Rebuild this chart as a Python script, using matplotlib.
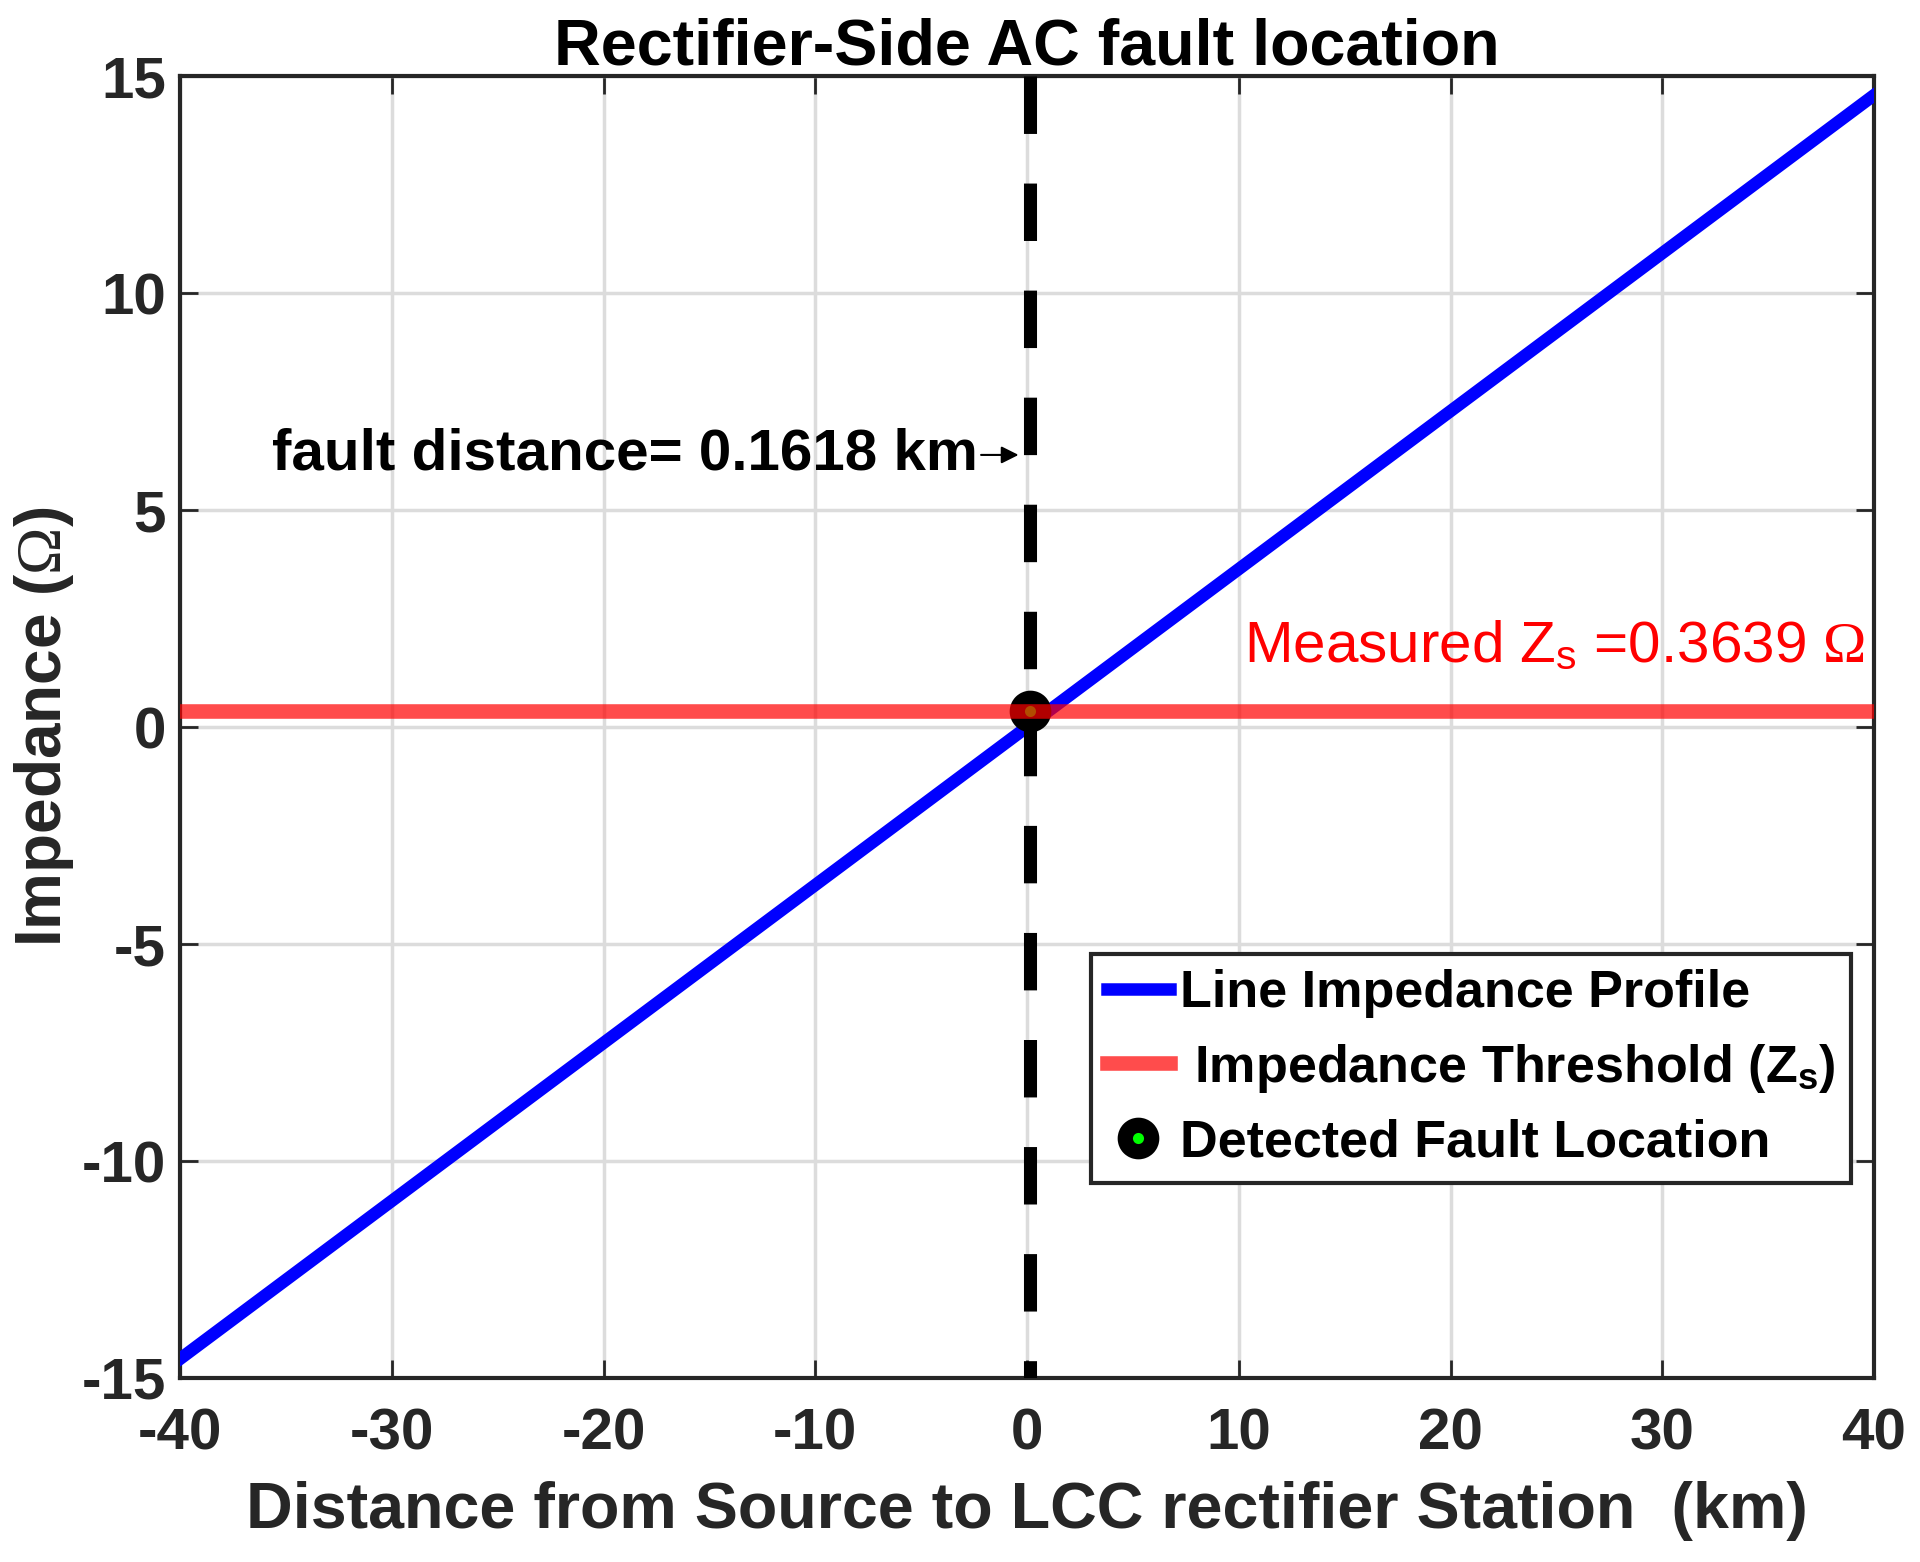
import matplotlib
matplotlib.use('Agg')
import matplotlib.pyplot as plt

# data
distance_km = [-40.0, 40.0]
impedance_ohm = [-14.56, 14.56]
z_threshold = 0.3639
fault_km = 0.1618
x_ticks = [-40, -30, -20, -10, 0, 10, 20, 30, 40]
y_ticks = [-15, -10, -5, 0, 5, 10, 15]
x_lim = [-40, 40]
y_lim = [15, -15]

plt.rcParams['font.family'] = ['Liberation Sans', 'DejaVu Sans']
plt.rcParams['font.weight'] = 'bold'
plt.rcParams['axes.unicode_minus'] = False
plt.rcParams['mathtext.fontset'] = 'custom'
plt.rcParams['mathtext.rm'] = 'Liberation Serif:normal'
plt.rcParams['mathtext.it'] = 'Liberation Serif:italic'
plt.rcParams['mathtext.sf'] = 'Liberation Sans:normal'
plt.rcParams['mathtext.bf'] = 'Liberation Sans:bold'

fig = plt.figure(figsize=(19.2, 15.62), dpi=100)
ax = fig.add_axes([0.09375, 0.1178, 0.8823, 0.8335])

ax.plot(distance_km, impedance_ohm, color='blue', lw=9, zorder=3,
        label='Line Impedance Profile')
ax.axhline(z_threshold, color='red', alpha=0.7, lw=10.5, zorder=5,
           label=' Impedance Threshold (Z$_\\mathbf{s}$)')
ax.plot([fault_km], [z_threshold], 'o', ms=19, mew=11, mfc=(0, 1, 0), mec='k',
        zorder=4, label='Detected Fault Location')
ax.plot([fault_km, fault_km], y_lim, color='k', lw=9.4,
        linestyle=(0, (4.4, 3.8)), zorder=4)

ax.annotate('fault distance= 0.1618 km', xy=(-0.4, 6.27), xytext=(-2.3, 6.27),
            ha='right', va='center', fontsize=42, fontweight='bold', color='k',
            arrowprops=dict(arrowstyle='-|>', lw=1.5, color='k',
                            mutation_scale=26, shrinkA=0, shrinkB=0))

ax.text(39.6, 1.5, 'Measured Z$_\\mathsf{s}$ =0.3639 $\\Omega$', color='red',
        fontsize=42, fontweight='normal', ha='right', va='baseline')

ax.set_xlim(x_lim)
ax.set_ylim(sorted(y_lim))
ax.set_xticks(x_ticks)
ax.set_yticks(y_ticks)
ax.grid(True, color='#dcdcdc', lw=2.5)
ax.set_axisbelow(True)

ax.tick_params(direction='in', length=13, width=2, colors='#262626',
               labelsize=42, top=True, right=True)
ax.tick_params(axis='x', pad=21)
ax.tick_params(axis='y', pad=10)
for s in ax.spines.values():
    s.set_linewidth(3)
    s.set_color('#262626')

ax.set_title('Rectifier-Side AC fault location', fontsize=46.5,
             fontweight='bold', pad=8)
ax.set_xlabel('Distance from Source to LCC rectifier Station  (km)',
              fontsize=46.5, fontweight='bold', color='#262626', labelpad=14)
ax.set_ylabel('Impedance ($\\Omega$)', fontsize=46, fontweight='bold',
              color='#262626', labelpad=4)

leg = ax.legend(loc='upper left', bbox_to_anchor=(0.538, 0.326),
                borderaxespad=0, fontsize=37.5, fancybox=False, framealpha=1,
                edgecolor='#262626', handlelength=1.2, handletextpad=0.2,
                borderpad=0.3, labelspacing=0.45, numpoints=1)
leg.get_frame().set_linewidth(3)

fig.savefig('out.png', dpi=100)
